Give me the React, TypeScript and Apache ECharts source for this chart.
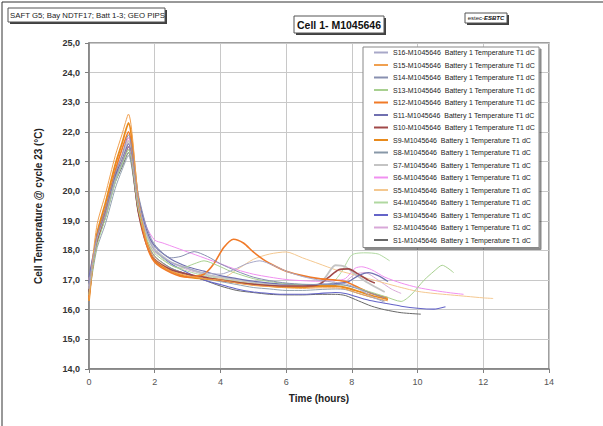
import React, { useEffect, useRef } from "react";
import * as echarts from "echarts";

const legendNames = [
  "S16", "S15", "S14", "S13", "S12", "S11", "S10", "S9",
  "S8", "S7", "S6", "S5", "S4", "S3", "S2", "S1",
];
const legendSuffix = "-M1045646  Battery 1 Temperature T1 dC";
const xTicks = [0, 2, 4, 6, 8, 10, 12, 14];
const yRange = [14, 25];

const s1 = [[0,16.5],[0.1,17.4],[0.25,18.3],[0.5,19.1],[0.8,20.3],[1.0,20.8],[1.2,21.3],[1.5,19.3],[1.75,18.3],[2,17.8],[2.5,17.4],[3,17.2],[3.5,17.0],[4,16.8],[4.5,16.65],[5,16.58],[5.5,16.52],[6,16.5],[6.5,16.5],[7,16.52],[7.5,16.52],[7.8,16.48],[8.2,16.3],[8.6,16.12],[9,16.0],[9.5,15.9],[10.1,15.85]];
const s2 = [[0,16.8],[0.1,17.6],[0.25,18.4],[0.5,19.3],[0.8,20.5],[1.0,21.0],[1.2,21.6],[1.5,19.5],[1.75,18.4],[2,17.95],[2.5,17.6],[3,17.35],[3.5,17.2],[4,17.05],[4.5,16.95],[5,16.88],[5.5,16.82],[6,16.78],[6.5,16.76],[7,16.78],[7.5,16.85],[7.8,16.95],[8.1,17.2],[8.4,17.25],[8.8,17.0],[9.2,16.7],[9.5,16.55]];
const s3 = [[0,16.9],[0.1,17.6],[0.25,18.4],[0.5,19.2],[0.8,20.4],[1.0,20.9],[1.2,21.5],[1.5,19.6],[1.75,18.6],[2,18.05],[2.5,17.55],[3,17.25],[3.5,17.0],[4,16.85],[4.5,16.7],[5,16.6],[5.5,16.55],[6,16.52],[6.5,16.52],[7,16.55],[7.5,16.58],[7.8,16.55],[8.2,16.42],[8.6,16.3],[9,16.22],[9.5,16.12],[10,16.05],[10.5,16.02],[10.85,16.1]];
const s4 = [[0,16.6],[0.1,17.4],[0.25,18.3],[0.5,19.1],[0.8,20.3],[1.0,20.9],[1.2,21.4],[1.5,19.5],[1.75,18.5],[2,18.0],[2.5,17.5],[3,17.3],[3.5,17.15],[4,17.05],[4.5,16.95],[5,16.88],[5.5,16.82],[6,16.8],[6.5,16.8],[7,16.82],[7.4,16.9],[7.7,17.3],[8,17.85],[8.4,17.92],[8.8,17.88],[9.15,17.65]];
const s5 = [[0,16.4],[0.1,17.3],[0.25,18.4],[0.5,19.4],[0.8,20.6],[1.0,21.2],[1.2,21.8],[1.5,19.5],[1.75,18.4],[2,17.8],[2.5,17.35],[3,17.15],[3.5,17.05],[4,17.05],[4.5,17.35],[5,17.7],[5.5,17.88],[6,17.95],[6.5,17.75],[7,17.55],[7.5,17.35],[8,17.2],[8.5,17.05],[9,16.9],[9.5,16.75],[10,16.62],[10.5,16.55],[11,16.5],[11.5,16.45],[12,16.4],[12.3,16.38]];
const s6 = [[0,17.0],[0.1,17.7],[0.25,18.5],[0.5,19.4],[0.8,20.6],[1.0,21.2],[1.2,21.8],[1.5,19.8],[1.75,18.8],[2,18.35],[2.25,18.25],[2.5,18.15],[3,17.95],[3.5,17.75],[4,17.55],[4.5,17.35],[5,17.2],[5.5,17.1],[6,17.02],[6.5,16.98],[7,16.96],[7.5,16.98],[7.8,17.05],[8.1,17.4],[8.3,17.45],[8.6,17.35],[9,17.1],[9.5,16.9],[10,16.75],[10.5,16.65],[11,16.57],[11.4,16.52]];
const s7 = [[0,16.7],[0.1,17.5],[0.25,18.4],[0.5,19.3],[0.8,20.6],[1.0,21.1],[1.2,21.7],[1.5,19.6],[1.75,18.6],[2,18.05],[2.5,17.6],[3,17.4],[3.5,17.2],[4,17.1],[4.5,17.0],[5,16.92],[5.5,16.86],[6,16.82],[6.5,16.82],[7,16.86],[7.2,17.1],[7.5,17.5],[7.8,17.45],[8.1,17.2],[8.5,16.9],[9,16.6]];
const s8 = [[0,16.4],[0.1,17.2],[0.25,18.1],[0.5,18.9],[0.8,20.1],[1.0,20.7],[1.2,21.2],[1.5,19.3],[1.75,18.3],[2,17.8],[2.5,17.4],[3,17.2],[3.5,17.05],[4,16.95],[4.5,16.85],[5,16.75],[5.5,16.7],[6,16.65],[6.5,16.65],[7,16.68],[7.5,16.7],[7.8,16.68],[8.2,16.55],[8.6,16.42],[9,16.3]];
const s9 = [[0,16.3],[0.1,17.4],[0.25,18.6],[0.5,19.6],[0.8,20.9],[1.0,21.6],[1.2,22.3],[1.5,19.7],[1.75,18.3],[2,17.65],[2.5,17.3],[3,17.1],[3.5,17.05],[4,17.0],[4.5,16.92],[5,16.85],[5.5,16.8],[6,16.76],[6.5,16.76],[7,16.8],[7.5,16.8],[7.8,16.75],[8.2,16.62],[8.6,16.48],[9.1,16.35]];
const s10 = [[0,16.6],[0.1,17.4],[0.25,18.3],[0.5,19.2],[0.8,20.5],[1.0,21.0],[1.2,21.5],[1.5,19.3],[1.75,18.2],[2,17.7],[2.5,17.35],[3,17.2],[3.5,17.1],[4,17.0],[4.5,16.92],[5,16.86],[5.5,16.82],[6,16.8],[6.5,16.8],[7,16.85],[7.3,17.1],[7.6,17.35],[7.9,17.38],[8.2,17.2],[8.5,17.0],[8.7,16.9]];
const s11 = [[0,17.1],[0.1,17.7],[0.25,18.5],[0.5,19.3],[0.8,20.5],[1.0,21.0],[1.2,21.6],[1.5,19.8],[1.75,18.7],[2,18.15],[2.5,17.7],[3,17.45],[3.5,17.3],[4,17.15],[4.5,17.05],[5,16.96],[5.5,16.9],[6,16.86],[6.5,16.85],[7,16.86],[7.5,16.88],[7.9,16.95],[8.2,17.15],[8.5,17.25],[8.8,17.15],[9.1,16.95]];
const s12 = [[0,16.4],[0.1,17.4],[0.25,18.5],[0.5,19.4],[0.8,20.7],[1.0,21.4],[1.2,22.0],[1.5,19.5],[1.75,18.2],[2,17.6],[2.5,17.25],[3,17.1],[3.5,17.2],[3.8,17.55],[4.1,18.1],[4.4,18.38],[4.7,18.25],[5,17.95],[5.3,17.7],[5.7,17.45],[6,17.3],[6.5,17.15],[7,17.05],[7.5,17.0],[7.8,16.95],[8.2,16.75],[8.6,16.55],[9.1,16.4]];
const s13 = [[0,16.5],[0.1,17.3],[0.25,18.2],[0.5,19.1],[0.8,20.4],[1.0,20.9],[1.2,21.4],[1.5,19.4],[1.75,18.4],[2,17.9],[2.5,17.5],[2.8,17.4],[3.2,17.55],[3.5,17.65],[3.9,17.5],[4.3,17.3],[5,17.05],[5.5,16.95],[6,16.88],[6.5,16.85],[7,16.85],[7.5,16.85],[8,16.78],[8.5,16.62],[9,16.45],[9.5,16.28],[9.8,16.5],[10.2,17.0],[10.5,17.3],[10.75,17.5],[11.1,17.25]];
const s14 = [[0,16.9],[0.1,17.6],[0.25,18.5],[0.5,19.4],[0.8,20.6],[1.0,21.2],[1.2,21.9],[1.5,19.9],[1.75,18.8],[2,18.2],[2.5,17.75],[2.8,17.8],[3.2,17.96],[3.6,17.8],[4,17.55],[4.5,17.3],[5,17.1],[5.5,16.98],[6,16.9],[6.5,16.86],[7,16.85],[7.5,16.85],[7.8,16.83],[8.2,16.7],[8.6,16.55],[9,16.4]];
const s15 = [[0,16.3],[0.1,17.6],[0.25,18.9],[0.5,19.9],[0.8,21.2],[1.0,21.9],[1.2,22.6],[1.5,19.8],[1.75,18.3],[2,17.7],[2.5,17.3],[3,17.15],[3.5,17.05],[4,17.0],[4.5,16.9],[5,16.82],[5.5,16.78],[6,16.74],[6.5,16.72],[7,16.74],[7.5,16.74],[7.8,16.7],[8.2,16.55],[8.6,16.42],[9.1,16.3]];
const s16 = [[0,16.7],[0.1,17.5],[0.25,18.4],[0.5,19.2],[0.8,20.4],[1.0,21.0],[1.2,21.5],[1.5,19.6],[1.75,18.6],[2,18.0],[2.5,17.6],[3,17.4],[3.5,17.25],[4,17.2],[4.4,17.35],[4.8,17.55],[5.2,17.65],[5.6,17.5],[6,17.3],[6.5,17.12],[7,17.0],[7.5,16.92],[7.8,16.88],[8.2,16.7],[8.6,16.45],[9,16.25]];

const seriesData: Record<string, number[][]> = {
  S1: s1, S2: s2, S3: s3, S4: s4, S5: s5, S6: s6, S7: s7, S8: s8,
  S9: s9, S10: s10, S11: s11, S12: s12, S13: s13, S14: s14, S15: s15, S16: s16,
};

const styles: Record<string, { color: string; width: number }> = {
  S16: { color: "#a8a8c8", width: 1 },
  S15: { color: "#f0a050", width: 1 },
  S14: { color: "#8890b0", width: 1 },
  S13: { color: "#a8d090", width: 1 },
  S12: { color: "#f07a28", width: 1.6 },
  S11: { color: "#7070b0", width: 1.2 },
  S10: { color: "#a04848", width: 1.6 },
  S9: { color: "#e88a1c", width: 1.8 },
  S8: { color: "#8898a8", width: 0.9 },
  S7: { color: "#c4c4c4", width: 1.8 },
  S6: { color: "#f090f0", width: 1 },
  S5: { color: "#f4c890", width: 1 },
  S4: { color: "#b0d8a0", width: 1 },
  S3: { color: "#6464c8", width: 1.1 },
  S2: { color: "#d8a8d8", width: 1 },
  S1: { color: "#686868", width: 1 },
};

const FONT = "Liberation Sans, Arial, sans-serif";

export default function App() {
  const ref = useRef<HTMLDivElement>(null);
  useEffect(() => {
    if (!ref.current) return;
    const chart = echarts.init(ref.current, undefined, { renderer: "svg" });
    const series = legendNames
      .slice()
      .reverse()
      .map((k) => ({
        name: k + legendSuffix,
        type: "line",
        data: seriesData[k],
        showSymbol: false,
        symbol: "none",
        smooth: 0.25,
        lineStyle: { color: styles[k].color, width: styles[k].width },
        itemStyle: { color: styles[k].color },
        z: 3,
      }));
    const boxShadow = (x: number, y: number, w: number, h: number) => [
      { type: "rect", shape: { x: x + 2, y: y + 2, width: w, height: h }, style: { fill: "#404040" }, z: 10 },
      { type: "rect", shape: { x, y, width: w, height: h }, style: { fill: "#fff", stroke: "#555", lineWidth: 1 }, z: 11 },
    ];
    chart.setOption({
      animation: false,
      backgroundColor: "#fff",
      textStyle: { fontFamily: FONT },
      grid: { left: 89, right: 54, top: 43, bottom: 57, show: true, borderColor: "#808080", borderWidth: 1.5, backgroundColor: "#fff" },
      xAxis: {
        type: "value",
        min: xTicks[0],
        max: xTicks[xTicks.length - 1],
        interval: 2,
        name: "Time (hours)",
        nameLocation: "middle",
        nameGap: 24,
        nameTextStyle: { fontSize: 10, fontWeight: "bold", color: "#222", fontFamily: FONT },
        axisLine: { show: true, lineStyle: { color: "#808080", width: 1.5 } },
        axisTick: { show: true, length: 4, lineStyle: { color: "#808080" } },
        axisLabel: { fontSize: 9, color: "#555", margin: 8, fontFamily: FONT },
        splitLine: { show: true, lineStyle: { color: "#c8c8c8", width: 1 } },
      },
      yAxis: {
        type: "value",
        min: yRange[0],
        max: yRange[1],
        interval: 1,
        name: "Cell Temperature @ cycle 23 (°C)",
        nameLocation: "middle",
        nameGap: 46,
        nameTextStyle: { fontSize: 10, fontWeight: "bold", color: "#222", fontFamily: FONT },
        axisLine: { show: true, lineStyle: { color: "#808080", width: 1.5 } },
        axisTick: { show: true, length: 4, lineStyle: { color: "#808080" } },
        axisLabel: {
          fontSize: 9,
          fontWeight: "bold",
          color: "#333",
          margin: 9,
          fontFamily: FONT,
          formatter: (v: number) => v.toFixed(1).replace(".", ","),
        },
        splitLine: { show: true, lineStyle: { color: "#c8c8c8", width: 1 } },
      },
      legend: {
        orient: "vertical",
        left: 363,
        top: 47,
        data: legendNames.map((k) => k + legendSuffix),
        itemWidth: 14,
        itemHeight: 8,
        itemGap: 5.5,
        itemTextGap: 3,
        padding: [2, 4, 4, 10],
        backgroundColor: "#fff",
        borderColor: "#888",
        borderWidth: 1,
        shadowColor: "rgba(0,0,0,0.45)",
        shadowOffsetX: 2,
        shadowOffsetY: 2,
        shadowBlur: 1,
        itemStyle: { opacity: 0 },
        textStyle: { fontSize: 7, color: "#222", fontFamily: FONT },
        selectedMode: false,
      },
      graphic: [
        { type: "rect", shape: { x: 2, y: 2, width: 700, height: 500 }, style: { fill: "none", stroke: "#333", lineWidth: 1 }, z: 0, silent: true },
        ...boxShadow(8, 8, 157, 14),
        { type: "text", x: 10, y: 15, style: { text: "SAFT G5; Bay NDTF17; Batt 1-3; GEO PIPS", fontSize: 7.8, fontFamily: FONT, fill: "#222", textVerticalAlign: "middle" }, z: 12 },
        ...boxShadow(294, 16, 90, 17),
        { type: "text", x: 339, y: 25, style: { text: "Cell 1- M1045646", fontSize: 10.5, fontWeight: "bold", fontFamily: FONT, fill: "#111", textAlign: "center", textVerticalAlign: "middle" }, z: 12 },
        ...boxShadow(465, 13, 42, 10),
        {
          type: "text", x: 486, y: 18,
          style: {
            text: "{a|estec-}{b|ESBTC}",
            textAlign: "center", textVerticalAlign: "middle",
            rich: {
              a: { fontSize: 6, fontFamily: FONT, fill: "#222" },
              b: { fontSize: 6, fontFamily: FONT, fontWeight: "bold", fontStyle: "italic", fill: "#111" },
            },
          },
          z: 12,
        },
      ],
      series,
    });
    return () => chart.dispose();
  }, []);
  return <div ref={ref} style={{ width: 603, height: 426, position: "absolute", left: 0, top: 0 }} />;
}
